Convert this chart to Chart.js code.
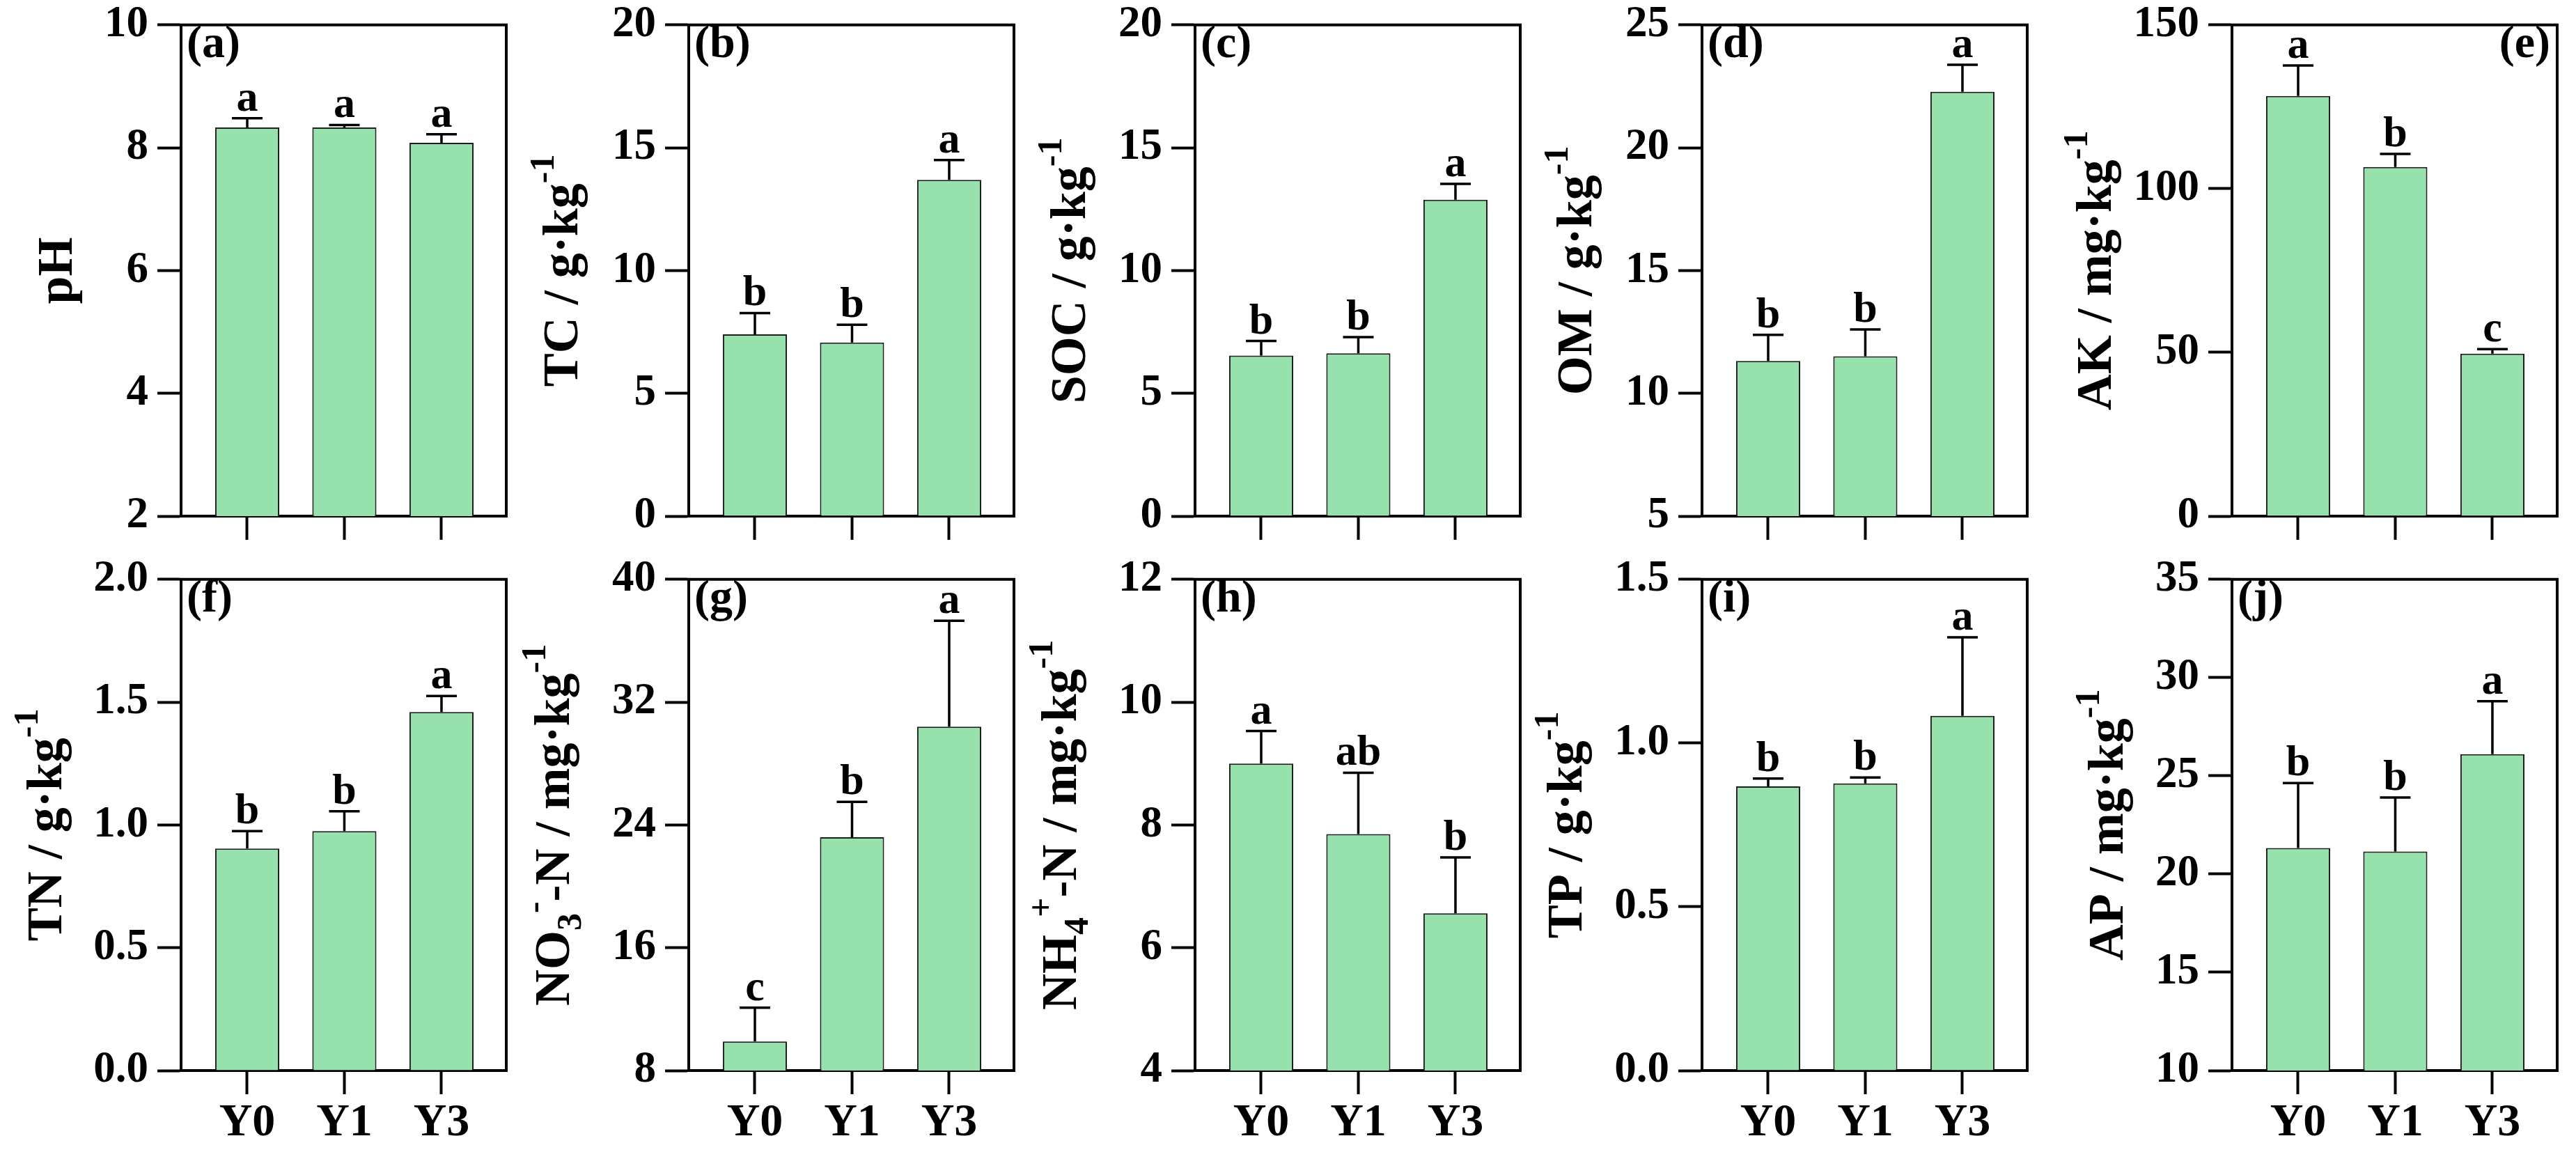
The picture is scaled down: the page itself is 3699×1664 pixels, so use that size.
<!DOCTYPE html>
<html>
<head>
<meta charset="utf-8">
<title>Soil properties Y0 / Y1 / Y3</title>
<script src="https://cdn.jsdelivr.net/npm/chart.js@4.4.1/dist/chart.umd.min.js"></script>
<style>
  html, body { margin: 0; padding: 0; background: #fff; }
  #figure { position: relative; width: 3699px; height: 1664px; overflow: hidden; background: #fff; }
  #figure canvas { position: absolute; }
</style>
</head>
<body>
<div id="figure"></div>
<script>
// Below we have the data (mean and SD of every bar)
const categories = ['Y0', 'Y1', 'Y3'];

const phMean = [8.33, 8.33, 8.08];
const phSd = [0.15, 0.04, 0.14];
const phLetters = ['a', 'a', 'a'];
const phTicks = ['2', '4', '6', '8', '10'];

const tcMean = [7.40, 7.07, 13.69];
const tcSd = [0.87, 0.72, 0.81];
const tcLetters = ['b', 'b', 'a'];
const tcTicks = ['0', '5', '10', '15', '20'];

const socMean = [6.54, 6.63, 12.88];
const socSd = [0.59, 0.66, 0.65];
const socLetters = ['b', 'b', 'a'];
const socTicks = ['0', '5', '10', '15', '20'];

const omMean = [11.32, 11.51, 22.28];
const omSd = [1.06, 1.09, 1.10];
const omLetters = ['b', 'b', 'a'];
const omTicks = ['5', '10', '15', '20', '25'];

const akMean = [128.3, 106.6, 49.6];
const akSd = [9.3, 4.0, 1.4];
const akLetters = ['a', 'b', 'c'];
const akTicks = ['0', '50', '100', '150'];

const tnMean = [0.904, 0.975, 1.46];
const tnSd = [0.071, 0.081, 0.065];
const tnLetters = ['b', 'b', 'a'];
const tnTicks = ['0.0', '0.5', '1.0', '1.5', '2.0'];

const no3Mean = [9.9, 23.2, 30.4];
const no3Sd = [2.2, 2.3, 6.9];
const no3Letters = ['c', 'b', 'a'];
const no3Ticks = ['8', '16', '24', '32', '40'];

const nh4Mean = [9.0, 7.85, 6.56];
const nh4Sd = [0.53, 1.0, 0.91];
const nh4Letters = ['a', 'ab', 'b'];
const nh4Ticks = ['4', '6', '8', '10', '12'];

const tpMean = [0.868, 0.877, 1.083];
const tpSd = [0.024, 0.018, 0.24];
const tpLetters = ['b', 'b', 'a'];
const tpTicks = ['0.0', '0.5', '1.0', '1.5'];

const apMean = [21.33, 21.15, 26.1];
const apSd = [3.3, 2.75, 2.7];
const apLetters = ['b', 'b', 'a'];
const apTicks = ['10', '15', '20', '25', '30', '35'];

// axis titles as runs: [text, 'n' | 'sup' | 'sub']
const panels = [
  { tag: '(a)', mean: phMean, sd: phSd, letters: phLetters, ticks: phTicks, title: [['pH', 'n']] },
  { tag: '(b)', mean: tcMean, sd: tcSd, letters: tcLetters, ticks: tcTicks, title: [['TC / g\u00b7kg', 'n'], ['-1', 'sup']] },
  { tag: '(c)', mean: socMean, sd: socSd, letters: socLetters, ticks: socTicks, title: [['SOC / g\u00b7kg', 'n'], ['-1', 'sup']] },
  { tag: '(d)', mean: omMean, sd: omSd, letters: omLetters, ticks: omTicks, title: [['OM / g\u00b7kg', 'n'], ['-1', 'sup']] },
  { tag: '(e)', mean: akMean, sd: akSd, letters: akLetters, ticks: akTicks, title: [['AK / mg\u00b7kg', 'n'], ['-1', 'sup']] },
  { tag: '(f)', mean: tnMean, sd: tnSd, letters: tnLetters, ticks: tnTicks, title: [['TN / g\u00b7kg', 'n'], ['-1', 'sup']] },
  { tag: '(g)', mean: no3Mean, sd: no3Sd, letters: no3Letters, ticks: no3Ticks,
    title: [['NO', 'n'], ['3', 'sub'], ['-', 'sup'], ['-N / mg\u00b7kg', 'n'], ['-1', 'sup']] },
  { tag: '(h)', mean: nh4Mean, sd: nh4Sd, letters: nh4Letters, ticks: nh4Ticks,
    title: [['NH', 'n'], ['4', 'sub'], ['+', 'sup'], ['-N / mg\u00b7kg', 'n'], ['-1', 'sup']] },
  { tag: '(i)', mean: tpMean, sd: tpSd, letters: tpLetters, ticks: tpTicks, title: [['TP / g\u00b7kg', 'n'], ['-1', 'sup']] },
  { tag: '(j)', mean: apMean, sd: apSd, letters: apLetters, ticks: apTicks, title: [['AP / mg\u00b7kg', 'n'], ['-1', 'sup']] }
];

// Below we have the page layout (pixel positions of the plot boxes)
const boxLeft = [260, 989, 1716, 2444, 3205];
const rowTop = [35, 831];
const boxWidth = 467;
const boxHeight = 706;
const axisSpace = 250;   // room left of the box for ticks + title
const padTop = 50;
const padRight = 15;
const xAxisSpace = 120;
const titleGap = [173, 176, 174, 175, 190, 188, 188, 187, 189, 173];

const FONT = '"Liberation Serif", "Times New Roman", serif';
const BAR_COLOR = '#97e1ad';

Chart.defaults.font.family = FONT;
Chart.defaults.color = '#000';

function drawTitle(ctx, runs, cx, cy) {
  const base = 72;
  let total = 0;
  const items = runs.map(function (r) {
    const size = r[1] === 'n' ? base : Math.round(base * 0.7);
    ctx.font = 'bold ' + size + 'px ' + FONT;
    const w = ctx.measureText(r[0]).width;
    total += w;
    let shift = 0;
    if (r[1] === 'sup') shift = -base * 0.47;
    if (r[1] === 'sub') shift = base * 0.24;
    return { text: r[0], size: size, w: w, shift: shift };
  });
  ctx.save();
  ctx.translate(cx, cy);
  ctx.rotate(-Math.PI / 2);
  ctx.fillStyle = '#000';
  ctx.textAlign = 'left';
  ctx.textBaseline = 'alphabetic';
  let x = -total / 2;
  items.forEach(function (it) {
    ctx.font = 'bold ' + it.size + 'px ' + FONT;
    ctx.fillText(it.text, x, it.shift);
    x += it.w;
  });
  ctx.restore();
}

// error bars, letters, frame, tag and the y title
function makeDecor(panel, idx) {
  return {
    id: 'decor' + idx,
    afterDatasetsDraw(chart) {
      const ctx = chart.ctx;
      const yScale = chart.scales.y;
      const meta = chart.getDatasetMeta(0);
      ctx.save();
      ctx.strokeStyle = '#000';
      ctx.fillStyle = '#000';
      ctx.lineWidth = 3.5;
      meta.data.forEach(function (bar, i) {
        const top = yScale.getPixelForValue(panel.mean[i] + panel.sd[i]);
        ctx.beginPath();
        ctx.moveTo(bar.x, bar.y);
        ctx.lineTo(bar.x, top);
        ctx.moveTo(bar.x - 22, top);
        ctx.lineTo(bar.x + 22, top);
        ctx.stroke();
        ctx.font = 'bold 62px ' + FONT;
        ctx.textAlign = 'center';
        ctx.textBaseline = 'alphabetic';
        ctx.fillText(panel.letters[i], bar.x, top - 11);
      });
      ctx.restore();
    },
    afterDraw(chart) {
      const ctx = chart.ctx;
      const a = chart.chartArea;
      ctx.save();
      ctx.strokeStyle = '#000';
      ctx.lineWidth = 4;
      ctx.lineCap = 'square';
      ctx.beginPath();
      ctx.moveTo(a.left, a.top);
      ctx.lineTo(a.right, a.top);
      ctx.lineTo(a.right, a.bottom);
      ctx.stroke();

      ctx.fillStyle = '#000';
      ctx.font = 'bold 66px ' + FONT;
      ctx.textBaseline = 'top';
      if (idx === 4) {
        ctx.textAlign = 'right';
        ctx.fillText(panel.tag, a.right - 10, a.top - 4);
      } else {
        ctx.textAlign = 'left';
        ctx.fillText(panel.tag, a.left + 8, a.top - 4);
      }
      ctx.restore();

      drawTitle(ctx, panel.title, a.left - titleGap[idx] + 16, (a.top + a.bottom) / 2);
    }
  };
}

function makePanel(panel, idx) {
  const col = idx % 5;
  const row = Math.floor(idx / 5);
  const canvas = document.createElement('canvas');
  const w = axisSpace + boxWidth + padRight;
  const h = padTop + boxHeight + xAxisSpace;
  canvas.width = w;
  canvas.height = h;
  canvas.style.width = w + 'px';
  canvas.style.height = h + 'px';
  canvas.style.left = (boxLeft[col] - axisSpace) + 'px';
  canvas.style.top = (rowTop[row] - padTop) + 'px';
  document.getElementById('figure').appendChild(canvas);

  const tickVals = panel.ticks.map(function (t) { return parseFloat(t); });

  new Chart(canvas.getContext('2d'), {
    type: 'bar',
    data: {
      datasets: [{
        data: panel.mean.map(function (v, i) { return { x: i, y: v }; }),
        backgroundColor: BAR_COLOR,
        borderColor: '#1e1e1e',
        borderWidth: 2,
        barPercentage: 0.825,
        categoryPercentage: 0.8
      }]
    },
    options: {
      responsive: false,
      animation: false,
      devicePixelRatio: 1,
      events: [],
      layout: { padding: { top: padTop, right: padRight, left: 0, bottom: 0 } },
      plugins: { legend: { display: false }, tooltip: { enabled: false } },
      scales: {
        x: {
          type: 'linear',
          min: -0.681,
          max: 2.667,
          offset: false,
          afterBuildTicks: function (scale) {
            scale.ticks = categories.map(function (c, i) { return { value: i }; });
          },
          afterFit: function (scale) { scale.height = xAxisSpace; },
          ticks: {
            autoSkip: false,
            maxRotation: 0,
            padding: 2,
            font: { size: 66, weight: 'bold' },
            color: '#000',
            callback: function (value, index) { return row === 1 ? categories[index] : ''; }
          },
          grid: {
            offset: false,
            drawOnChartArea: false,
            drawTicks: true,
            tickLength: 34,
            tickWidth: 4,
            tickColor: '#000'
          },
          border: { display: true, color: '#000', width: 4 }
        },
        y: {
          min: tickVals[0],
          max: tickVals[tickVals.length - 1],
          afterBuildTicks: function (scale) {
            scale.ticks = tickVals.map(function (v) { return { value: v }; });
          },
          afterFit: function (scale) { scale.width = axisSpace; },
          ticks: {
            autoSkip: false,
            padding: 13,
            font: { size: 63, weight: 'bold' },
            color: '#000',
            callback: function (value, index) { return panel.ticks[index]; }
          },
          grid: {
            drawOnChartArea: false,
            drawTicks: true,
            tickLength: 34,
            tickWidth: 4,
            tickColor: '#000'
          },
          border: { display: true, color: '#000', width: 4 }
        }
      }
    },
    plugins: [makeDecor(panel, idx)]
  });
}

panels.forEach(makePanel);
</script>
</body>
</html>
